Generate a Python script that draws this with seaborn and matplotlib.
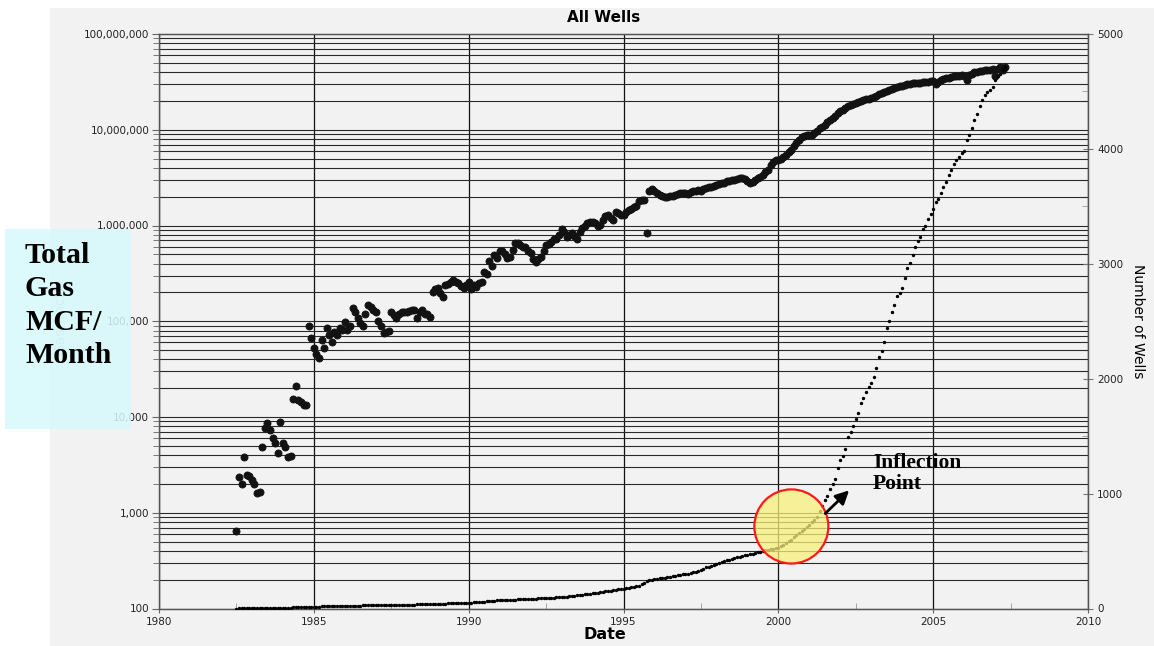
import numpy as np
import matplotlib
matplotlib.use("Agg")
import matplotlib.pyplot as plt
import seaborn as sns
from matplotlib.ticker import FuncFormatter, LogLocator, MultipleLocator, NullFormatter
from matplotlib.patches import Ellipse, Rectangle

# ---------------- data (monthly, starting July 1982) ----------------
start_year = 1982.5

gas_1982 = [650, 2350, 2000, 3800, 2450, 2400]
gas_1983 = [2200, 2000, 1600, 1650, 4900, 7600, 8600, 7300, 6100, 5400, 4200, 8800]
gas_1984 = [5400, 4900, 3800, 3900, 15600, 20900, 14900, 14200, 13300, 13300, 88700, 66400]
gas_1985 = [53000, 46000, 41000, 63000, 53000, 85000, 72000, 60000, 77000, 72000, 85000, 82000]
gas_1986 = [98000, 82000, 90000, 137000, 124000, 108000, 95000, 89000, 120000, 147000, 140000, 130000]
gas_1987 = [124000, 100000, 90000, 75000, 78000, 80000, 124000, 115000, 108000, 120000, 125000, 125000]
gas_1988 = [125000, 128000, 130000, 132000, 108000, 125000, 130000, 120000, 120000, 110000, 200000, 215000]
gas_1989 = [220000, 195000, 180000, 240000, 245000, 260000, 270000, 260000, 250000, 235000, 225000, 240000]
gas_1990 = [255000, 215000, 240000, 230000, 250000, 260000, 330000, 310000, 430000, 380000, 490000, 460000]
gas_1991 = [540000, 540000, 500000, 460000, 470000, 560000, 650000, 650000, 620000, 600000, 590000, 540000]
gas_1992 = [520000, 450000, 420000, 450000, 470000, 540000, 620000, 640000, 680000, 730000, 730000, 800000]
gas_1993 = [920000, 860000, 750000, 800000, 840000, 770000, 720000, 850000, 950000, 1.0e6, 1.05e6, 1.08e6]
gas_1994 = [1.1e6, 1.05e6, 1.0e6, 1.02e6, 1.15e6, 1.25e6, 1.28e6, 1.2e6, 1.14e6, 1.38e6, 1.35e6, 1.28e6]
gas_1995 = [1.3e6, 1.4e6, 1.45e6, 1.5e6, 1.55e6, 1.6e6, 1.8e6, 1.84e6, 1.85e6, 8.3e5, 2.3e6, 2.4e6]
gas_1996 = [2.3e6, 2.2e6, 2.1e6, 2.05e6, 2.0e6, 2.0e6, 2.05e6, 2.05e6, 2.1e6, 2.15e6, 2.2e6, 2.2e6]
gas_1997 = [2.2e6, 2.15e6, 2.25e6, 2.3e6, 2.3e6, 2.35e6, 2.3e6, 2.4e6, 2.45e6, 2.5e6, 2.55e6, 2.6e6]
gas_1998 = [2.65e6, 2.7e6, 2.75e6, 2.8e6, 2.9e6, 2.95e6, 3.0e6, 3.0e6, 3.05e6, 3.1e6, 3.1e6, 3.05e6]
gas_1999 = [2.9e6, 2.8e6, 2.85e6, 3.0e6, 3.1e6, 3.2e6, 3.35e6, 3.6e6, 3.8e6, 4.3e6, 4.6e6, 4.8e6]
gas_2000 = [4.8e6, 4.9e6, 5.2e6, 5.5e6, 5.8e6, 6.2e6, 6.7e6, 7.2e6, 7.8e6, 8.3e6, 8.6e6, 8.8e6]
gas_2001 = [8.8e6, 8.9e6, 9.2e6, 9.6e6, 1.04e7, 1.08e7, 1.12e7, 1.2e7, 1.27e7, 1.33e7, 1.4e7, 1.5e7]
gas_2002 = [1.56e7, 1.62e7, 1.7e7, 1.76e7, 1.81e7, 1.86e7, 1.92e7, 1.97e7, 2.02e7, 2.06e7, 2.1e7, 2.12e7]
gas_2003 = [2.15e7, 2.2e7, 2.26e7, 2.35e7, 2.42e7, 2.5e7, 2.55e7, 2.6e7, 2.65e7, 2.72e7, 2.8e7, 2.85e7]
gas_2004 = [2.88e7, 2.92e7, 2.97e7, 3.0e7, 3.05e7, 3.07e7, 3.1e7, 3.1e7, 3.12e7, 3.15e7, 3.17e7, 3.2e7]
gas_2005 = [3.2e7, 3.0e7, 3.15e7, 3.3e7, 3.4e7, 3.45e7, 3.5e7, 3.55e7, 3.6e7, 3.6e7, 3.65e7, 3.7e7]
gas_2006 = [3.6e7, 3.3e7, 3.7e7, 3.85e7, 4.0e7, 4.05e7, 4.1e7, 4.15e7, 4.2e7, 4.2e7, 4.25e7, 4.3e7]
gas_2007 = [3.6e7, 4.35e7, 4.5e7, 4.2e7, 4.55e7]

wells_1982 = [0, 1, 1, 2, 2, 3]
wells_1983 = [3, 4, 4, 5, 5, 5, 6, 6, 6, 7, 7, 7]
wells_1984 = [8, 8, 8, 8, 9, 9, 9, 10, 10, 11, 12, 13]
wells_1985 = [15, 16, 17, 18, 19, 20, 21, 22, 22, 23, 23, 24]
wells_1986 = [24, 25, 25, 25, 26, 26, 26, 27, 27, 27, 28, 28]
wells_1987 = [29, 29, 29, 30, 30, 30, 31, 31, 31, 32, 32, 32]
wells_1988 = [33, 33, 34, 34, 35, 35, 35, 36, 36, 37, 38, 39]
wells_1989 = [40, 41, 42, 43, 44, 45, 46, 46, 47, 48, 48, 49]
wells_1990 = [50, 51, 53, 54, 55, 57, 60, 62, 64, 66, 68, 70]
wells_1991 = [72, 73, 74, 75, 76, 77, 78, 79, 80, 81, 82, 83]
wells_1992 = [85, 86, 87, 88, 89, 90, 92, 93, 94, 95, 96, 98]
wells_1993 = [100, 102, 104, 106, 108, 111, 114, 117, 120, 122, 125, 128]
wells_1994 = [132, 135, 138, 142, 146, 149, 152, 156, 160, 163, 166, 169]
wells_1995 = [172, 176, 180, 185, 190, 196, 200, 210, 222, 235, 244, 250]
wells_1996 = [255, 258, 262, 265, 268, 272, 276, 280, 285, 290, 294, 296]
wells_1997 = [298, 302, 308, 315, 320, 325, 335, 348, 358, 365, 372, 380]
wells_1998 = [390, 398, 404, 410, 418, 425, 432, 440, 446, 452, 458, 463]
wells_1999 = [468, 473, 478, 484, 490, 495, 500, 505, 510, 515, 520, 524]
wells_2000 = [525, 540, 555, 570, 585, 600, 620, 640, 660, 675, 695, 710]
wells_2001 = [730, 750, 770, 800, 850, 890, 940, 980, 1040, 1080, 1130, 1220]
wells_2002 = [1290, 1330, 1390, 1490, 1533, 1590, 1646, 1700, 1786, 1830, 1882, 1930]
wells_2003 = [1965, 2012, 2090, 2190, 2240, 2317, 2440, 2500, 2578, 2640, 2720, 2750]
wells_2004 = [2790, 2875, 2962, 3010, 3075, 3150, 3200, 3230, 3302, 3330, 3389, 3432]
wells_2005 = [3480, 3535, 3565, 3615, 3670, 3710, 3770, 3815, 3865, 3900, 3930, 3960]
wells_2006 = [3981, 4077, 4120, 4185, 4255, 4300, 4375, 4425, 4465, 4495, 4515, 4540]
wells_2007 = [4600, 4635, 4655, 4690, 4713]

gas = (gas_1982 + gas_1983 + gas_1984 + gas_1985 + gas_1986 + gas_1987 + gas_1988 +
       gas_1989 + gas_1990 + gas_1991 + gas_1992 + gas_1993 + gas_1994 + gas_1995 +
       gas_1996 + gas_1997 + gas_1998 + gas_1999 + gas_2000 + gas_2001 + gas_2002 +
       gas_2003 + gas_2004 + gas_2005 + gas_2006 + gas_2007)
wells = (wells_1982 + wells_1983 + wells_1984 + wells_1985 + wells_1986 + wells_1987 +
         wells_1988 + wells_1989 + wells_1990 + wells_1991 + wells_1992 + wells_1993 +
         wells_1994 + wells_1995 + wells_1996 + wells_1997 + wells_1998 + wells_1999 +
         wells_2000 + wells_2001 + wells_2002 + wells_2003 + wells_2004 + wells_2005 +
         wells_2006 + wells_2007)
dates = start_year + np.arange(len(gas)) / 12.0

x_ticks = [1980, 1985, 1990, 1995, 2000, 2005, 2010]
well_ticks = [0, 1000, 2000, 3000, 4000, 5000]

# ---------------- figure ----------------
W, H = 1154, 646
fig = plt.figure(figsize=(W / 100, H / 100), dpi=100)
fig.patch.set_facecolor("white")
fig.add_artist(Rectangle((50 / W, 0), 1 - 50 / W, 1 - 8 / H, transform=fig.transFigure,
                         facecolor="#f2f2f2", edgecolor="none", zorder=-10))

ax = fig.add_axes([159 / W, (H - 608.5) / H, (1088 - 159) / W, (608.5 - 34) / H])
ax.set_facecolor("#f2f2f2")
ax.set_yscale("log")
ax.set_xlim(1980, 2010)
ax.set_ylim(100, 1e8)

ax.yaxis.set_major_locator(LogLocator(base=10))
ax.yaxis.set_minor_locator(LogLocator(base=10, subs=np.arange(2, 10)))
ax.yaxis.set_major_formatter(FuncFormatter(lambda v, p: f"{int(round(v)):,}"))
ax.yaxis.set_minor_formatter(NullFormatter())
ax.set_xticks(x_ticks)
ax.xaxis.set_minor_locator(MultipleLocator(2.5))

ax.grid(True, which="both", axis="y", color="#2a2a2a", lw=0.8, zorder=0)
ax.grid(True, which="major", axis="x", color="#111111", lw=0.9, zorder=0)
ax.set_axisbelow(True)

sns.scatterplot(x=dates, y=gas, ax=ax, color="#121212", s=26, marker="o",
                edgecolor="#121212", linewidth=0.6, zorder=3)

ax.tick_params(axis="y", which="major", direction="out", length=5, labelsize=7.5,
               color="#666666", labelcolor="#222222", pad=2)
ax.tick_params(axis="y", which="minor", direction="out", length=4, color="#666666")
ax.tick_params(axis="x", which="major", direction="out", length=3, labelsize=7.5,
               color="#666666", labelcolor="#222222", pad=3)
ax.tick_params(axis="x", which="minor", direction="in", length=4, color="#999999")

for s in ax.spines.values():
    s.set_color("#555555")
    s.set_linewidth(0.9)

ax.set_xlabel("Date", fontsize=11.5, fontweight="bold")
ax.xaxis.set_label_coords((605 - 159) / 929, (608.5 - 627) / 574.5)
ax.set_ylabel("Gas (mcf)", fontsize=10, color="#b5b5b5")
ax.yaxis.set_label_coords((68 - 159) / 929, 0.5)

# right axis: number of wells
ax2 = ax.twinx()
ax2.set_ylim(0, 5000)
sns.scatterplot(x=dates, y=wells, ax=ax2, color="black", s=6, marker="o",
                linewidth=0, zorder=3)
ax2.set_xlabel("")
ax2.set_yticks(well_ticks)
ax2.yaxis.set_minor_locator(MultipleLocator(500))
ax2.tick_params(axis="y", which="major", direction="inout", length=7, labelsize=7.5,
                color="#777777", labelcolor="#222222", pad=3)
ax2.tick_params(axis="y", which="minor", direction="in", length=4, color="#999999")
for s in ax2.spines.values():
    s.set_color("#555555")
    s.set_linewidth(0.9)
ax2.set_ylabel("Number of Wells", rotation=270, fontsize=10, va="center", ha="center")
ax2.yaxis.set_label_coords((1138 - 159) / 929, 0.5)

# inflection point highlight
ax2.add_patch(Ellipse((2000.42, 714), width=2.39, height=645, facecolor="#f8f07a",
                      alpha=0.75, edgecolor="none", zorder=4))
ax2.add_patch(Ellipse((2000.42, 714), width=2.39, height=645, facecolor="none",
                      edgecolor="#ff1a1a", lw=1.6, zorder=5))
ax2.annotate("", xy=(2002.35, 1045), xytext=(2001.45, 810),
             arrowprops=dict(arrowstyle="-|>", color="black", lw=2.0, mutation_scale=20),
             zorder=6)
fig.text(873 / W, 1 - 453 / H, "Inflection\nPoint", ha="left", va="top",
         family="Liberation Serif", fontweight="bold", fontsize=15.5, linespacing=1.05)

# title
fig.text(604 / W, 1 - 18 / H, "All Wells", ha="center", va="center",
         fontsize=11, fontweight="bold")

# cyan callout box on the left
fig.add_artist(Rectangle((5 / W, 1 - 429 / H), 126 / W, 200 / H, transform=fig.transFigure,
                         facecolor="#d6fafc", alpha=0.85, edgecolor="none", zorder=5))
fig.text(25 / W, 1 - 242 / H, "Total\nGas\nMCF/\nMonth", ha="left", va="top",
         family="Liberation Serif", fontweight="bold", fontsize=21.5, linespacing=1.3,
         zorder=6)

fig.savefig("out.png", dpi=100, facecolor=fig.get_facecolor())
